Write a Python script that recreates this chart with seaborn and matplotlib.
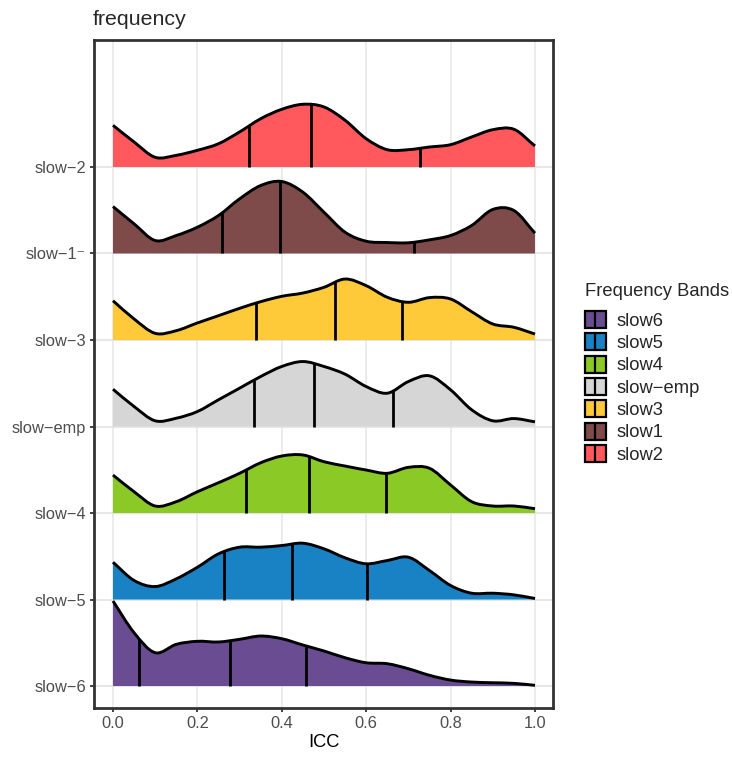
import numpy as np
import matplotlib
matplotlib.use("Agg")
import matplotlib.pyplot as plt
import seaborn as sns
from matplotlib.path import Path
from matplotlib.patches import PathPatch, Rectangle, Patch
from matplotlib.lines import Line2D
from matplotlib.legend_handler import HandlerBase

# ICC evaluation grid for the density ridges
icc_grid = [0.00, 0.05, 0.10, 0.15, 0.20, 0.25, 0.30, 0.35, 0.40, 0.45, 0.50,
            0.55, 0.60, 0.65, 0.70, 0.75, 0.80, 0.85, 0.90, 0.95, 1.00]

# Ridge heights (in units of ridge spacing), bottom ridge first
dens_slow6 = [0.983, 0.616, 0.385, 0.482, 0.517, 0.509, 0.540, 0.578, 0.547, 0.474, 0.405,
              0.327, 0.269, 0.258, 0.200, 0.124, 0.069, 0.046, 0.038, 0.031, 0.008]
dens_slow5 = [0.431, 0.220, 0.150, 0.239, 0.373, 0.528, 0.605, 0.605, 0.624, 0.651, 0.586,
              0.482, 0.413, 0.451, 0.489, 0.335, 0.162, 0.073, 0.073, 0.054, 0.012]
dens_slow4 = [0.439, 0.246, 0.081, 0.131, 0.246, 0.350, 0.459, 0.581, 0.659, 0.671, 0.593,
              0.543, 0.497, 0.459, 0.528, 0.517, 0.324, 0.131, 0.081, 0.081, 0.050]
dens_emp = [0.431, 0.231, 0.066, 0.096, 0.173, 0.309, 0.443, 0.578, 0.694, 0.751, 0.694,
            0.605, 0.462, 0.385, 0.520, 0.586, 0.424, 0.193, 0.066, 0.092, 0.054]
dens_slow3 = [0.454, 0.243, 0.077, 0.108, 0.197, 0.281, 0.366, 0.443, 0.505, 0.543, 0.609,
              0.705, 0.628, 0.494, 0.436, 0.490, 0.474, 0.327, 0.185, 0.147, 0.069]
dens_slow1 = [0.543, 0.343, 0.150, 0.208, 0.304, 0.439, 0.632, 0.786, 0.832, 0.709, 0.477,
              0.246, 0.142, 0.127, 0.124, 0.158, 0.208, 0.324, 0.509, 0.497, 0.235]
dens_slow2 = [0.482, 0.289, 0.112, 0.135, 0.193, 0.269, 0.405, 0.558, 0.667, 0.725, 0.694,
              0.540, 0.327, 0.200, 0.200, 0.231, 0.258, 0.347, 0.431, 0.436, 0.243]

# 25th / 50th / 75th percentiles of ICC per band
q_slow6 = [0.062, 0.278, 0.457]
q_slow5 = [0.264, 0.424, 0.603]
q_slow4 = [0.316, 0.464, 0.648]
q_emp = [0.333, 0.476, 0.664]
q_slow3 = [0.338, 0.526, 0.686]
q_slow1 = [0.259, 0.396, 0.714]
q_slow2 = [0.322, 0.470, 0.727]

ridge_labels = ["slow\u22126", "slow\u22125", "slow\u22124", "slow\u2212emp",
                "slow\u22123", "slow\u22121\u207b", "slow\u22122"]
band_names = ["slow6", "slow5", "slow4", "slow\u2212emp", "slow3", "slow1", "slow2"]
band_colors = ["#6A4C93", "#1982C4", "#8AC926", "#D6D6D6", "#FFCA3A", "#7F4A4A", "#FF595E"]

densities = [dens_slow6, dens_slow5, dens_slow4, dens_emp, dens_slow3, dens_slow1, dens_slow2]
quartiles = [q_slow6, q_slow5, q_slow4, q_emp, q_slow3, q_slow1, q_slow2]

sns.set_theme(style="white")
plt.rcParams["font.family"] = ["Liberation Sans", "DejaVu Sans"]
palette = sns.color_palette(band_colors)


def tangents(y):
    """Catmull-Rom slopes with linear extrapolation at the ends."""
    y = np.asarray(y, float)
    pad = np.r_[2 * y[0] - y[1], y, 2 * y[-1] - y[-2]]
    return (pad[2:] - pad[:-2]) / 2.0


def curve_vertices(x, y, base):
    x = np.asarray(x, float)
    y = np.asarray(y, float)
    m = tangents(y)
    dx = x[1] - x[0]
    verts, codes = [], []
    for i in range(len(x) - 1):
        verts += [(x[i] + dx / 3, base + y[i] + m[i] / 3),
                  (x[i + 1] - dx / 3, base + y[i + 1] - m[i + 1] / 3),
                  (x[i + 1], base + y[i + 1])]
        codes += [Path.CURVE4] * 3
    return verts, codes


def height_at(x, y, q):
    x = np.asarray(x, float)
    y = np.asarray(y, float)
    m = tangents(y)
    dx = x[1] - x[0]
    i = min(int(q // dx), len(x) - 2)
    t = (q - x[i]) / dx
    h00 = 2 * t**3 - 3 * t**2 + 1
    h10 = t**3 - 2 * t**2 + t
    h01 = -2 * t**3 + 3 * t**2
    h11 = t**3 - t**2
    return h00 * y[i] + h10 * m[i] + h01 * y[i + 1] + h11 * m[i + 1]


fig = plt.figure(figsize=(7.32, 7.60), dpi=100)
ax = fig.add_axes([94 / 732, 52 / 760, 459 / 732, 668 / 760])

ax.set_xlim(-0.045, 1.0427)
ax.set_ylim(0.746, 8.468)

# background grid
for gx in np.arange(0, 1.01, 0.2):
    ax.axvline(gx, color="#EBEBEB", lw=1.3, zorder=0)
for k in range(len(ridge_labels)):
    ax.axhline(k + 1, color="#E0E0E0", lw=1.1, zorder=0)

# ridges drawn from the top down so lower ridges sit in front
for k in range(len(densities) - 1, -1, -1):
    base = k + 1
    y = densities[k]
    x = icc_grid
    verts, codes = curve_vertices(x, y, base)
    z = 10 + (len(densities) - k) * 3

    fill_verts = [(x[0], base), (x[0], base + y[0])] + verts + [(x[-1], base), (x[0], base)]
    fill_codes = [Path.MOVETO, Path.LINETO] + codes + [Path.LINETO, Path.CLOSEPOLY]
    ax.add_patch(PathPatch(Path(fill_verts, fill_codes), facecolor=palette[k],
                           edgecolor="none", zorder=z))

    line_verts = [(x[0], base + y[0])] + verts
    line_codes = [Path.MOVETO] + codes
    ax.add_patch(PathPatch(Path(line_verts, line_codes), facecolor="none",
                           edgecolor="black", lw=2.1, capstyle="butt",
                           joinstyle="round", zorder=z + 1))

    for q in quartiles[k]:
        ax.plot([q, q], [base, base + height_at(x, y, q)], color="black",
                lw=2.0, solid_capstyle="butt", zorder=z + 2)

ax.set_yticks(range(1, len(ridge_labels) + 1))
ax.set_yticklabels(ridge_labels)
ax.set_xticks(np.arange(0, 1.01, 0.2))
ax.set_xticklabels([f"{v:.1f}" for v in np.arange(0, 1.01, 0.2)])
ax.tick_params(axis="both", length=3.2, width=1.3, color="#333333",
               labelsize=11.8, labelcolor="#4D4D4D", pad=2.5,
               left=True, bottom=True)
for s in ax.spines.values():
    s.set_color("#333333")
    s.set_linewidth(2.0)
    s.set_zorder(100)

ax.set_xlabel("ICC", fontsize=13.2, color="black", labelpad=2)
ax.set_ylabel("")
fig.text(93 / 732, 1 - 25 / 760, "frequency", fontsize=15.4, va="baseline", ha="left")


class RidgeKey(HandlerBase):
    def create_artists(self, legend, orig_handle, xdescent, ydescent,
                       width, height, fontsize, trans):
        rect = Rectangle((-xdescent, -ydescent), width, height,
                         facecolor=orig_handle.get_facecolor(),
                         edgecolor="black", lw=1.6, transform=trans)
        mid = -xdescent + width / 2
        line = Line2D([mid, mid], [-ydescent, -ydescent + height],
                      color="black", lw=1.6, transform=trans)
        return [rect, line]


handles = [Patch(facecolor=palette[k], label=band_names[k]) for k in range(len(band_names))]
leg = fig.legend(handles=handles, title="Frequency Bands",
                 loc="upper left", bbox_to_anchor=(572 / 732, 1 - 270 / 760),
                 frameon=False, fontsize=13.2, title_fontsize=13.2,
                 handlelength=1.15, handleheight=1.04, handletextpad=0.6,
                 labelspacing=0.2, borderpad=0.2, alignment="left",
                 handler_map={Patch: RidgeKey()})
# extra room between the legend title and the first key
leg._legend_box.sep = 8

fig.savefig("out.png", dpi=100)
